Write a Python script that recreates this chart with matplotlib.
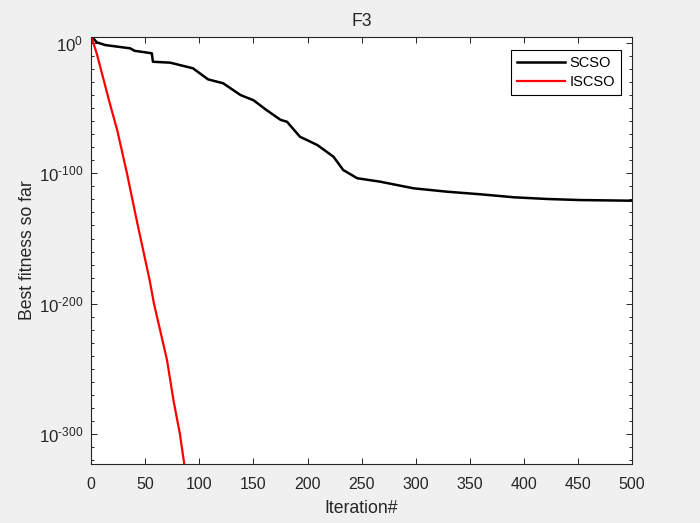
import numpy as np
import matplotlib
matplotlib.use("Agg")
import matplotlib.pyplot as plt
from matplotlib.ticker import FixedLocator, FixedFormatter

plt.rcParams['font.family'] = ['Liberation Sans', 'DejaVu Sans']
plt.rcParams['mathtext.fontset'] = 'custom'
plt.rcParams['mathtext.rm'] = 'Liberation Sans'
plt.rcParams['mathtext.it'] = 'Liberation Sans'
plt.rcParams['mathtext.default'] = 'regular'

# values (exponent of 10)
scso_iter = [0, 2, 5, 13, 36, 40, 56, 57, 73, 94, 108, 122, 138, 150, 162, 175, 181,
             193, 209, 224, 233, 246, 267, 298, 329, 360, 391, 422, 452, 500]
scso_exp = [4.7, 3.4, 0.4, -1.7, -4.2, -6.1, -8.0, -14.5, -15.2, -19.5, -28, -31, -40, -44,
            -51.5, -59, -60.5, -72, -78.3, -87.3, -97.5, -103.8, -106.4, -111.5, -114.1,
            -116.1, -118.4, -119.7, -120.5, -121]

iscso_iter = [0, 5, 17, 24, 33, 42, 54, 58, 70, 76, 82, 86]
iscso_exp = [4.7, -8, -46, -67, -100, -136, -182, -200, -243, -274, -300, -323]

xticks = [0, 50, 100, 150, 200, 250, 300, 350, 400, 450, 500]
ytick_exp = [-300, -200, -100, 0]

dark = '#262626'

fig = plt.figure(figsize=(7, 5.23), dpi=100, facecolor='#f0f0f0')
ax = fig.add_axes([0.1304, 0.1128, 0.7724, 0.817])

ax.semilogy(scso_iter, np.power(10.0, scso_exp), color='black', lw=1.8, label='SCSO')
ax.semilogy(iscso_iter, np.power(10.0, iscso_exp), color='red', lw=1.6, label='ISCSO')

ax.set_xlim(0, 500)
ax.set_ylim(10.0 ** -322.8, 10.0 ** 4.7)

ax.xaxis.set_major_locator(FixedLocator(xticks))
ax.yaxis.set_major_locator(FixedLocator([10.0 ** e for e in ytick_exp]))
ax.yaxis.set_major_formatter(FixedFormatter([r'$10^{\text{%d}}$' % e for e in ytick_exp]))
ax.yaxis.set_minor_locator(FixedLocator([10.0 ** e for e in range(-320, 5, 10) if e % 100 != 0]))
ax.yaxis.set_minor_formatter(FixedFormatter([]))

ax.tick_params(which='both', direction='in', top=True, right=True, colors=dark,
               labelsize=11.5, width=0.7)
ax.tick_params(which='major', length=4)
ax.tick_params(which='minor', length=2.2)
ax.tick_params(axis='x', pad=9)
ax.tick_params(axis='y', pad=6, labelsize=12.2)
for s in ax.spines.values():
    s.set_color(dark)
    s.set_linewidth(0.8)

ax.set_title('F3', fontsize=12.7, color=dark, pad=8)
ax.set_xlabel('Iteration#', fontsize=12.7, color=dark, labelpad=6)
ax.set_ylabel('Best fitness so far', fontsize=12.7, color=dark, labelpad=2)

leg = ax.legend(loc='upper right', bbox_to_anchor=(0.979, 0.969), fontsize=10.5,
                fancybox=False, framealpha=1, edgecolor='black', borderpad=0.4,
                handlelength=3.3, handletextpad=0.3, labelspacing=0.35, borderaxespad=0)
leg.get_frame().set_linewidth(0.8)

fig.savefig('out.png', dpi=100, facecolor=fig.get_facecolor())
